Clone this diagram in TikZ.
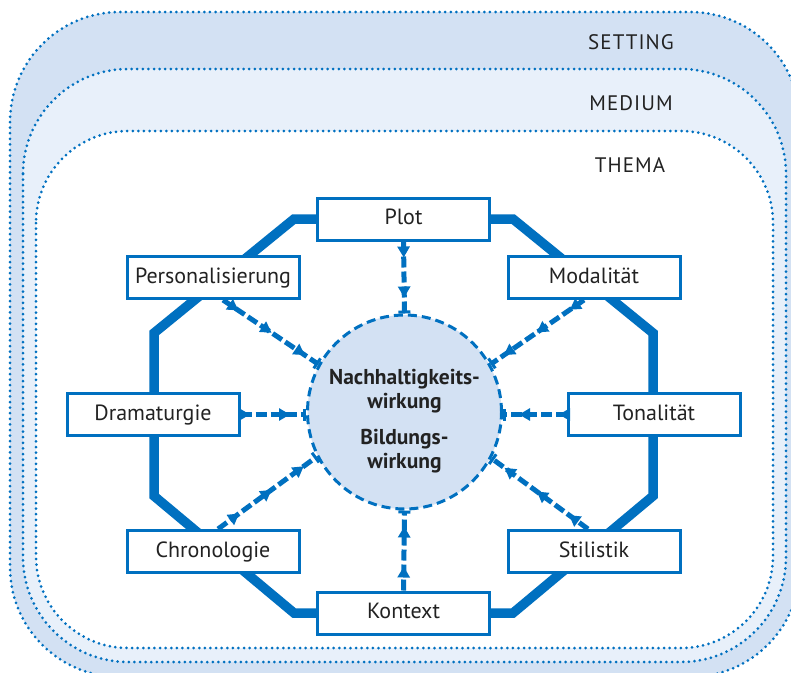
\documentclass[tikz,border=0pt]{standalone}
\usepackage{fontspec}
\setmainfont{PT Sans}
\usetikzlibrary{arrows.meta,decorations.markings,calc}
\definecolor{myblue}{RGB}{0,112,192}
\definecolor{bandA}{RGB}{211,225,243}
\definecolor{bandB}{RGB}{232,240,250}
\definecolor{txt}{RGB}{34,34,34}
\tikzset{
  frame/.style={draw=myblue, line width=3pt, line cap=round, dash pattern=on 0pt off 5.6pt},
  labelcaps/.style={anchor=base, text=txt, font=\fontsize{21}{24}\selectfont\addfontfeatures{LetterSpace=5}},
  box/.style={draw=myblue, fill=white, line width=3pt, minimum width=172pt, minimum height=42pt,
    text=txt, font=\fontsize{22}{25}\selectfont, text height=15pt, text depth=4pt, inner sep=0pt},
  ring/.style={draw=myblue, line width=9.5pt, line join=miter},
  flow/.style={myblue, line width=5pt, dash pattern=on 11pt off 4pt, -{Bar[width=12pt,line width=3pt]}},
  headtip/.tip={Triangle[length=11pt,width=12pt]},
  twoheads/.style={flow, postaction={decorate}, decoration={markings,
    mark=at position -16pt with {\arrow{headtip}},
    mark=at position -56pt with {\arrow{headtip}}}},
  threeheads/.style={flow, postaction={decorate}, decoration={markings,
    mark=at position -16pt with {\arrow{headtip}},
    mark=at position -56pt with {\arrow{headtip}},
    mark=at position -96pt with {\arrow{headtip}}}},
}
\begin{document}
\begin{tikzpicture}[x=1pt,y=-1pt]
\useasboundingbox (0,0) rectangle (791,672);
\begin{scope}
  \clip (0,0) rectangle (791,672);
  \fill[white] (0,0) rectangle (791,672);
  \filldraw[frame, fill=bandA, rounded corners=110pt] (10,12) rectangle (800,677);
  \filldraw[frame, fill=bandB, rounded corners=105pt] (23,69) rectangle (786,662);
  \filldraw[frame, fill=white, rounded corners=92pt] (36,131) rectangle (773,648);
\end{scope}
\node[labelcaps] (setting) at (631,49) {SETTING};
\node[labelcaps] (medium) at (631,110) {MEDIUM};
\node[labelcaps] (thema) at (630,172) {THEMA};

\coordinate (v1) at (294,219);
\coordinate (v2) at (513,219);
\coordinate (v3) at (653,333);
\coordinate (v4) at (653,496);
\coordinate (v5) at (513,613);
\coordinate (v6) at (294,613);
\coordinate (v7) at (154,496);
\coordinate (v8) at (154,333);
\draw[ring] (v1) -- (v2) -- (v3) -- (v4) -- (v5) -- (v6) -- (v7) -- (v8) -- cycle;

\node[box] (plot) at (403.5,219) {Plot};
\node[box] (pers) at (213,277.5) {Personalisierung};
\node[box] (modal) at (594,277.5) {Modalität};
\node[box] (drama) at (153,414.5) {Dramaturgie};
\node[box] (tonal) at (654,414.5) {Tonalität};
\node[box] (chron) at (213,551.5) {Chronologie};
\node[box] (stil) at (594,551.5) {Stilistik};
\node[box] (kontext) at (403.5,613) {Kontext};

\node[circle, minimum size=194pt, inner sep=0pt, fill=bandA, draw=myblue, line width=3pt,
  dash pattern=on 9pt off 5pt] (core) at (404.5,412) {};
\node[align=center, text=txt, font=\fontsize{21.5}{24}\selectfont\bfseries] (coretext)
  at ($(core.center)+(0,9)$) {Nachhaltigkeits-\\wirkung\\[12pt]Bildungs-\\wirkung};

\draw[twoheads] (plot.south) -- (core.north);
\draw[twoheads] (kontext.north) -- (core.south);
\draw[twoheads] (drama.east) -- (drama.east -| core.west);
\draw[twoheads] (tonal.west) -- (tonal.west -| core.east);
\draw[threeheads] ($(pers.south)+(10,0)$) -- (core.151);
\draw[threeheads] ($(modal.south)+(-10,0)$) -- (core.29);
\draw[threeheads] ($(chron.north)+(5,0)$) -- (core.207);
\draw[threeheads] ($(stil.north)+(-6,0)$) -- (core.332);
\end{tikzpicture}
\end{document}
